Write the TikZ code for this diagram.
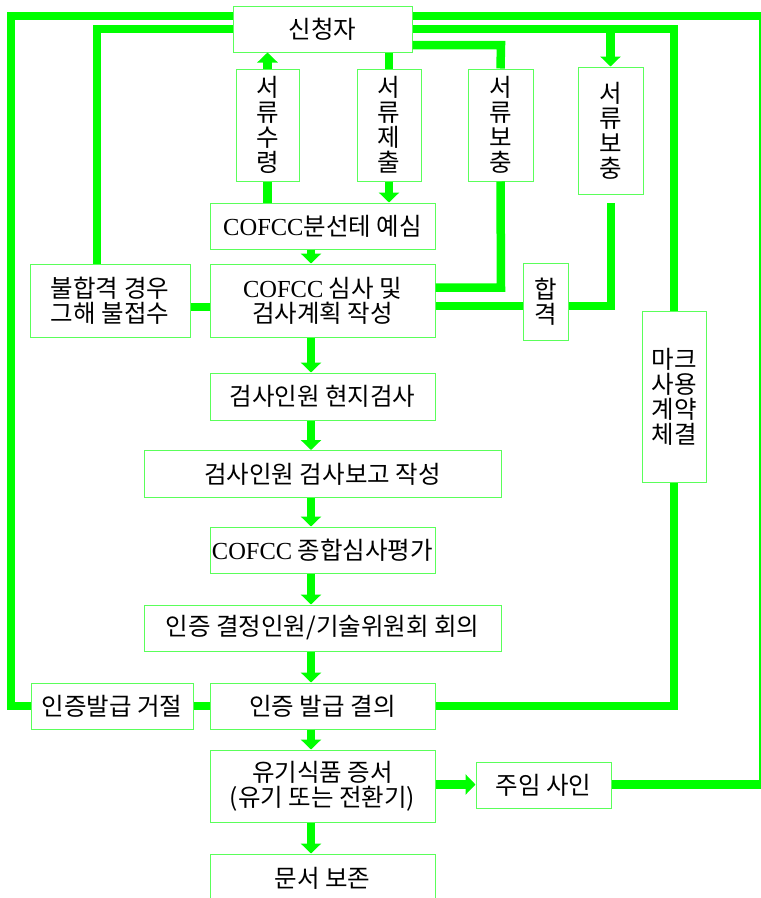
\documentclass[tikz,border=0pt]{standalone}
\usepackage{fontspec}
\setmainfont{Liberation Serif}
\newfontfamily\kr{Noto Sans CJK KR}
\usetikzlibrary{arrows.meta}
\definecolor{lg}{RGB}{0,255,0}
\definecolor{bgr}{RGB}{90,255,90}
\begin{document}
\begin{tikzpicture}[x=1pt,y=-1pt,
 box/.style={draw=bgr, line width=1pt, fill=white, inner sep=0pt, align=center,
   font=\kr\fontsize{24.5}{25}\selectfont, text=black},
 sz/.style 2 args={minimum width=#1pt, minimum height=#2pt},
 conn/.style={draw=lg, line width=8.5pt, line join=miter},
 arr/.style={conn, -{Triangle[width=20pt,length=10pt]}}]
\useasboundingbox (0,0) rectangle (761,898);
\clip (0,0) rectangle (761,898);
\fill[white] (0,0) rectangle (761,898);

% nodes
\node[box,sz={179}{46}] (sin) at (322.5,29) {신청자};
\node[box,sz={63}{112}] (sr) at (267.5,125) {서\\류\\수\\령};
\node[box,sz={64}{112}] (sj) at (389,125) {서\\류\\제\\출};
\node[box,sz={65}{112}] (bo1) at (500.5,125) {서\\류\\보\\충};
\node[box,sz={65}{127}] (bo2) at (610.5,130.5) {서\\류\\보\\충};
\node[box,sz={225}{46}] (yes) at (322.5,226) {{\rmfamily COFCC}분선테 예심};
\node[box,sz={225}{73}] (sim) at (322.5,300.5) {{\rmfamily COFCC} 심사 및\\검사계획 작성};
\node[box,sz={160}{73}] (bul) at (110,300.5) {불합격 경우\\그해 불접수};
\node[box,sz={45}{77}] (hap) at (545.5,301.5) {합\\격};
\node[box,sz={225}{47}] (hyun) at (322.5,396.5) {검사인원 현지검사};
\node[box,sz={357}{47}] (bogo) at (322.5,474) {검사인원 검사보고 작성};
\node[box,sz={225}{46}] (jong) at (322.5,550) {{\rmfamily COFCC} 종합심사평가};
\node[box,sz={357}{46}] (gyul) at (322.5,628) {인증 결정인원/기술위원회 회의};
\node[box,sz={64}{171}] (mark) at (674,396.5) {마크\\사용\\계약\\체결};
\node[box,sz={225}{46}] (gyuri) at (322.5,706) {인증 발급 결의};
\node[box,sz={162}{46}] (geo) at (112,706) {인증발급 거절};
\node[box,sz={225}{72}] (yugi) at (322.5,786) {유기식품 증서\\(유기 또는 전환기)};
\node[box,sz={135}{46}] (jum) at (543.5,785) {주임 사인};
\node[box,sz={225}{48}] (mun) at (322.5,878) {문서 보존};

% bend points
\coordinate (c1) at (11,16);
\coordinate (c2) at (11,706);
\coordinate (c3) at (97,29);
\coordinate (c4) at (0,307);
\coordinate (c5) at (501,45);
\coordinate (c6) at (501,287.5);
\coordinate (c7) at (674,29);
\coordinate (c8) at (611,203);
\coordinate (c9) at (611,306);
\coordinate (c10) at (674,706);
\coordinate (c11) at (763,784.5);
\coordinate (c12) at (763,16);
\coordinate (col) at (311,0);

% connectors
\draw[conn] (sin.west |- c1) -- (c1) -- (c2) -- (geo.west);
\draw[conn] (bul.north -| c3) -- (c3) -- (sin.west);
\draw[conn] (bul.east |- c4) -- (sim.west |- c4);
\draw[conn] (sin.east |- c5) -- (c5) -- (bo1.north);
\draw[conn] (bo1.south) -- (c6) -- (sim.east |- c6);
\draw[conn] (sin.east) -- (c7) -- (mark.north);
\draw[arr] (bo2.north |- c7) -- (bo2.north);
\draw[conn] (c8) -- (c9) -- (hap.east |- c9);
\draw[conn] (hap.west |- c9) -- (sim.east |- c9);
\draw[conn] (mark.south) -- (c10) -- (gyuri.east);
\draw[conn] (geo.east) -- (gyuri.west);
\draw[conn] (jum.east |- c11) -- (c11) -- (c12) -- (sin.east |- c12);
\draw[arr] (yugi.east |- c11) -- (jum.west |- c11);

\draw[arr] (sr.north) -- (sin.south -| sr.north);
\draw[conn] (sr.south) -- (yes.north -| sr.south);
\draw[conn] (sin.south -| sj.north) -- (sj.north);
\draw[arr] (sj.south) -- (yes.north -| sj.south);

\foreach \a/\b in {yes/sim, sim/hyun, hyun/bogo, bogo/jong, jong/gyul, gyul/gyuri, gyuri/yugi, yugi/mun}
  \draw[arr] (\a.south -| col) -- (\b.north -| col);
\end{tikzpicture}
\end{document}
